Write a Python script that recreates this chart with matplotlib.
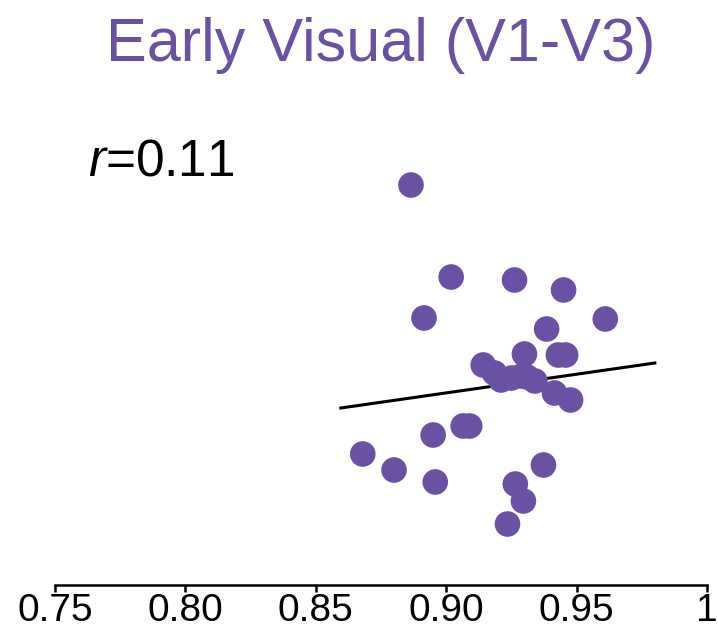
import matplotlib
matplotlib.use('Agg')
import matplotlib.pyplot as plt

plt.rcParams['font.family'] = ['Liberation Sans', 'DejaVu Sans']
plt.rcParams['mathtext.fontset'] = 'custom'
plt.rcParams['mathtext.rm'] = 'Liberation Sans'
plt.rcParams['mathtext.it'] = 'Liberation Sans:italic'

purple = '#6a51a3'

# per-subject values (x: reliability, y: arbitrary units)
x_vals = [0.8865, 0.9019, 0.9262, 0.9450, 0.8915, 0.9610, 0.9385, 0.9300,
          0.9430, 0.9458, 0.9142, 0.9185, 0.9210, 0.9250, 0.9290, 0.9310,
          0.9340, 0.9415, 0.9477, 0.9065, 0.9090, 0.8950, 0.8680, 0.8800,
          0.8958, 0.9373, 0.9265, 0.9296, 0.9235]
y_vals = [3.97, 3.05, 3.02, 2.92, 2.64, 2.63, 2.53, 2.28,
          2.27, 2.27, 2.17, 2.09, 2.02, 2.04, 2.06, 2.05,
          2.01, 1.89, 1.82, 1.56, 1.56, 1.47, 1.28, 1.12,
          1.00, 1.17, 0.98, 0.81, 0.58]

fit_x = [0.8596, 0.9800]
fit_y = [1.74, 2.19]
r_value = 0.11

xticks = [0.75, 0.80, 0.85, 0.90, 0.95, 1.0]
xtick_labels = ['0.75', '0.80', '0.85', '0.90', '0.95', '1']

fig = plt.figure(figsize=(7.18, 6.31), dpi=100)
ax = fig.add_axes([55 / 718, 49 / 631, 652 / 718, 432 / 631])

ax.scatter(x_vals, y_vals, s=340, color=purple, edgecolors='none', zorder=3)
ax.plot(fit_x, fit_y, color='black', lw=2.2, zorder=2)

ax.set_xlim(0.75, 1.0)
ax.set_ylim(0, 4.32)
ax.set_xticks(xticks)
ax.set_xticklabels(xtick_labels)
ax.set_yticks([])
for side in ['left', 'right', 'top']:
    ax.spines[side].set_visible(False)
ax.spines['bottom'].set_linewidth(1.8)
ax.spines['bottom'].set_position(('outward', 2))
ax.tick_params(axis='x', direction='out', length=5, width=1.8,
               labelsize=28, pad=1)

fig.text(381 / 718, 1 - 61 / 631, 'Early Visual (V1-V3)', color=purple,
         fontsize=44, ha='center', va='baseline')
fig.text(88 / 718, 1 - 175 / 631, r'$\mathit{r}$=' + f'{r_value:.2f}',
         fontsize=37, ha='left', va='baseline')

fig.savefig('out.png', dpi=100)
